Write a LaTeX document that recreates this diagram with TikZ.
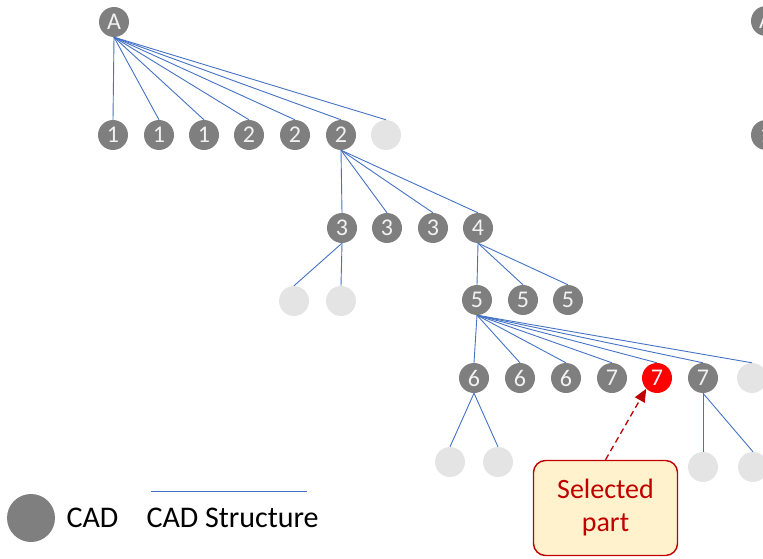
\documentclass[tikz,border=0pt]{standalone}
\usepackage{fontspec}
\setmainfont{Carlito}
\usetikzlibrary{arrows.meta}
\definecolor{cadgray}{HTML}{7F7F7F}
\definecolor{ghost}{HTML}{E4E4E4}
\definecolor{linkblue}{HTML}{4472C4}
\definecolor{selred}{HTML}{FF0000}
\definecolor{darkred}{HTML}{C00000}
\definecolor{callfill}{HTML}{FFF2CC}
\tikzset{
  cad/.style={circle,fill=cadgray,text=white!95!black,minimum size=30pt,inner sep=0pt,font=\fontsize{24}{24}\selectfont},
  ghostnode/.style={circle,fill=ghost,minimum size=30pt,inner sep=0pt},
  selnode/.style={cad,fill=selred},
  link/.style={draw=linkblue,line width=0.9pt},
  callout/.style={draw=darkred,line width=1.4pt,fill=callfill,rounded corners=12pt,text=darkred,font=\fontsize{28}{33}\selectfont,align=center},
  legtext/.style={anchor=west,font=\fontsize{30}{30}\selectfont},
}
\begin{document}
\begin{tikzpicture}[x=1pt,y=-1pt]
\useasboundingbox (0,0) rectangle (763,559);
\begin{scope}
\clip (0,0) rectangle (763,559);
% level 0
\node[cad] (A) at (114,22) {A};
% level 1
\node[cad] (b1) at (113,135) {1};
\node[cad] (b2) at (159,135) {1};
\node[cad] (b3) at (204,135) {1};
\node[cad] (b4) at (249,135) {2};
\node[cad] (b5) at (295,135) {2};
\node[cad] (b6) at (341,135) {2};
\node[ghostnode] (b7) at (386,135) {};
% level 2
\node[cad] (c1) at (342,228) {3};
\node[cad] (c2) at (387,228) {3};
\node[cad] (c3) at (433,228) {3};
\node[cad] (c4) at (478,228) {4};
% level 3
\node[ghostnode] (d1) at (294,301) {};
\node[ghostnode] (d2) at (341,301) {};
\node[cad] (e1) at (477,300) {5};
\node[cad] (e2) at (523,300) {5};
\node[cad] (e3) at (568,300) {5};
% level 4
\node[cad] (f1) at (474,378) {6};
\node[cad] (f2) at (520,378) {6};
\node[cad] (f3) at (566,378) {6};
\node[cad] (f4) at (612,378) {7};
\node[selnode] (f5) at (657,378) {7};
\node[cad] (f6) at (703,378) {7};
\node[ghostnode] (f7) at (752,378) {};
% level 5
\node[ghostnode] (g1) at (450,462) {};
\node[ghostnode] (g2) at (498,462) {};
\node[ghostnode] (g3) at (703,467) {};
\node[ghostnode] (g4) at (753,467) {};
% partial second tree at right edge
\node[cad] (A2) at (766,21) {A};
\node[cad] (h1) at (766,135) {1};
% links
\foreach \c in {b1,b2,b3,b4,b5,b6,b7} \draw[link] (A.south) -- (\c.north);
\foreach \c in {c1,c2,c3,c4} \draw[link] (b6.south) -- (\c.north);
\foreach \c in {d1,d2} \draw[link] (c1.south) -- (\c.north);
\foreach \c in {e1,e2,e3} \draw[link] (c4.south) -- (\c.north);
\foreach \c in {f1,f2,f3,f4,f5,f6,f7} \draw[link] (e1.south) -- (\c.north);
\foreach \c in {g1,g2} \draw[link] (f1.south) -- (\c.north);
\foreach \c in {g3,g4} \draw[link] (f6.south) -- (\c.north);
\end{scope}
% callout
\node[callout,minimum width=144pt,minimum height=95pt] (call) at (605.5,508) {Selected\\part};
\draw[darkred,line width=1.3pt,dash pattern=on 6pt off 4pt,-{Triangle[length=13pt,width=11pt]}] (call.north) -- (f5.south west);
% legend
\node[cad,minimum size=48pt] (leg) at (31,518) {};
\node[legtext] (legt) at (63,518) {CAD};
\coordinate (ls) at (151,491);
\coordinate (le) at (307,491);
\draw[link] (ls) -- (le);
\node[legtext] (legs) at (143,518) {CAD Structure};
\end{tikzpicture}
\end{document}
